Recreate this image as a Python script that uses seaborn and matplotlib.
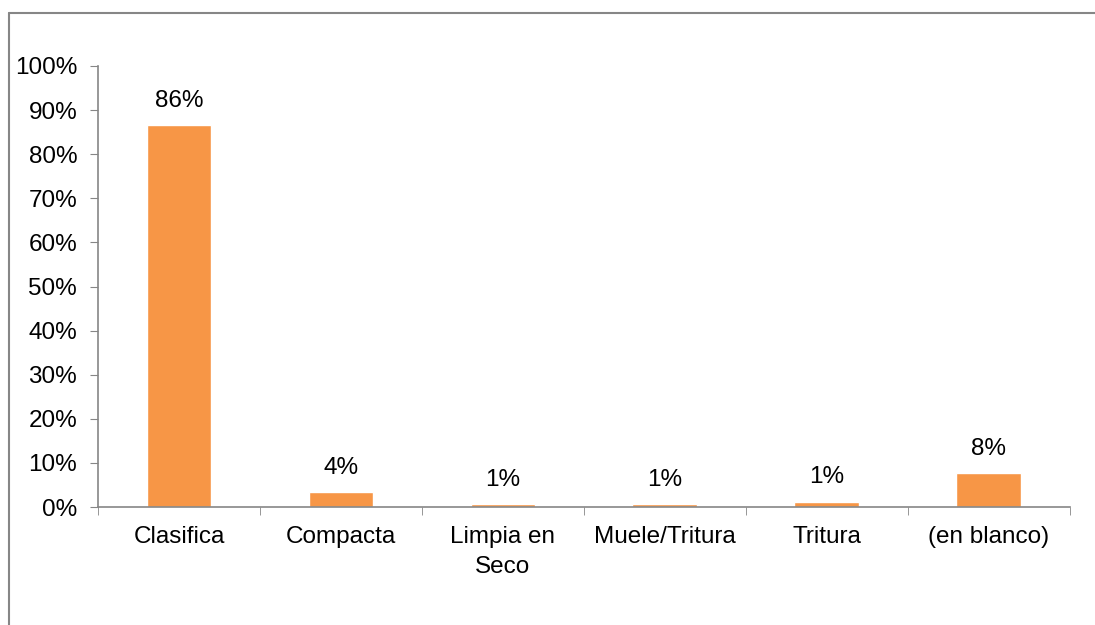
import matplotlib
matplotlib.use('Agg')
import matplotlib.pyplot as plt
import seaborn as sns
import pandas as pd
from matplotlib.lines import Line2D

# data
categorias = ['Clasifica', 'Compacta', 'Limpia en\nSeco', 'Muele/Tritura', 'Tritura', '(en blanco)']
valores = [0.866, 0.034, 0.006, 0.006, 0.012, 0.077]
etiquetas = ['86%', '4%', '1%', '1%', '1%', '8%']

df = pd.DataFrame({'categoria': categorias, 'valor': valores})

sns.set_style('white')
plt.rcParams['font.family'] = ['Liberation Sans', 'DejaVu Sans']

fig = plt.figure(figsize=(10.95, 6.25), dpi=100)
ax = fig.add_axes([0.0895, 0.1888, 0.8875, 0.7056])

sns.barplot(data=df, x='categoria', y='valor', color='#F79646', width=0.4,
            saturation=1, ax=ax)

for i, (v, lab) in enumerate(zip(valores, etiquetas)):
    ax.text(i, v + 0.03, lab, ha='center', va='bottom', fontsize=17.5, color='black')

ax.set_ylim(0, 1)
ax.set_xlim(-0.5, len(categorias) - 0.5)
ax.set_yticks([i / 10 for i in range(11)])
ax.set_yticklabels([f'{i * 10}%' for i in range(11)], fontsize=17.5, color='black')
ax.set_xticks(range(len(categorias)))
ax.set_xticklabels(categorias, fontsize=17.5, color='black', linespacing=1.45)
ax.set_xlabel('')
ax.set_ylabel('')

# category boundary ticks on x axis
ax.set_xticks([i - 0.5 for i in range(len(categorias) + 1)], minor=True)
ax.tick_params(axis='x', which='major', length=0, pad=14)
ax.tick_params(axis='x', which='minor', length=6, color='#868686', direction='out', bottom=True)
ax.tick_params(axis='y', length=6, color='#868686', direction='out', left=True, pad=9)

for s in ['top', 'right']:
    ax.spines[s].set_visible(False)
for s in ['left', 'bottom']:
    ax.spines[s].set_color('#868686')
    ax.spines[s].set_linewidth(1.2)

# outer chart frame (top and left edges)
y_top = 1 - 13 / 625
x_left = 9 / 1095
fig.add_artist(Line2D([x_left, 1.0], [y_top, y_top], transform=fig.transFigure,
                      color='#868686', linewidth=1.5))
fig.add_artist(Line2D([x_left, x_left], [0, y_top], transform=fig.transFigure,
                      color='#868686', linewidth=1.5))

fig.savefig('out.png', dpi=100)
